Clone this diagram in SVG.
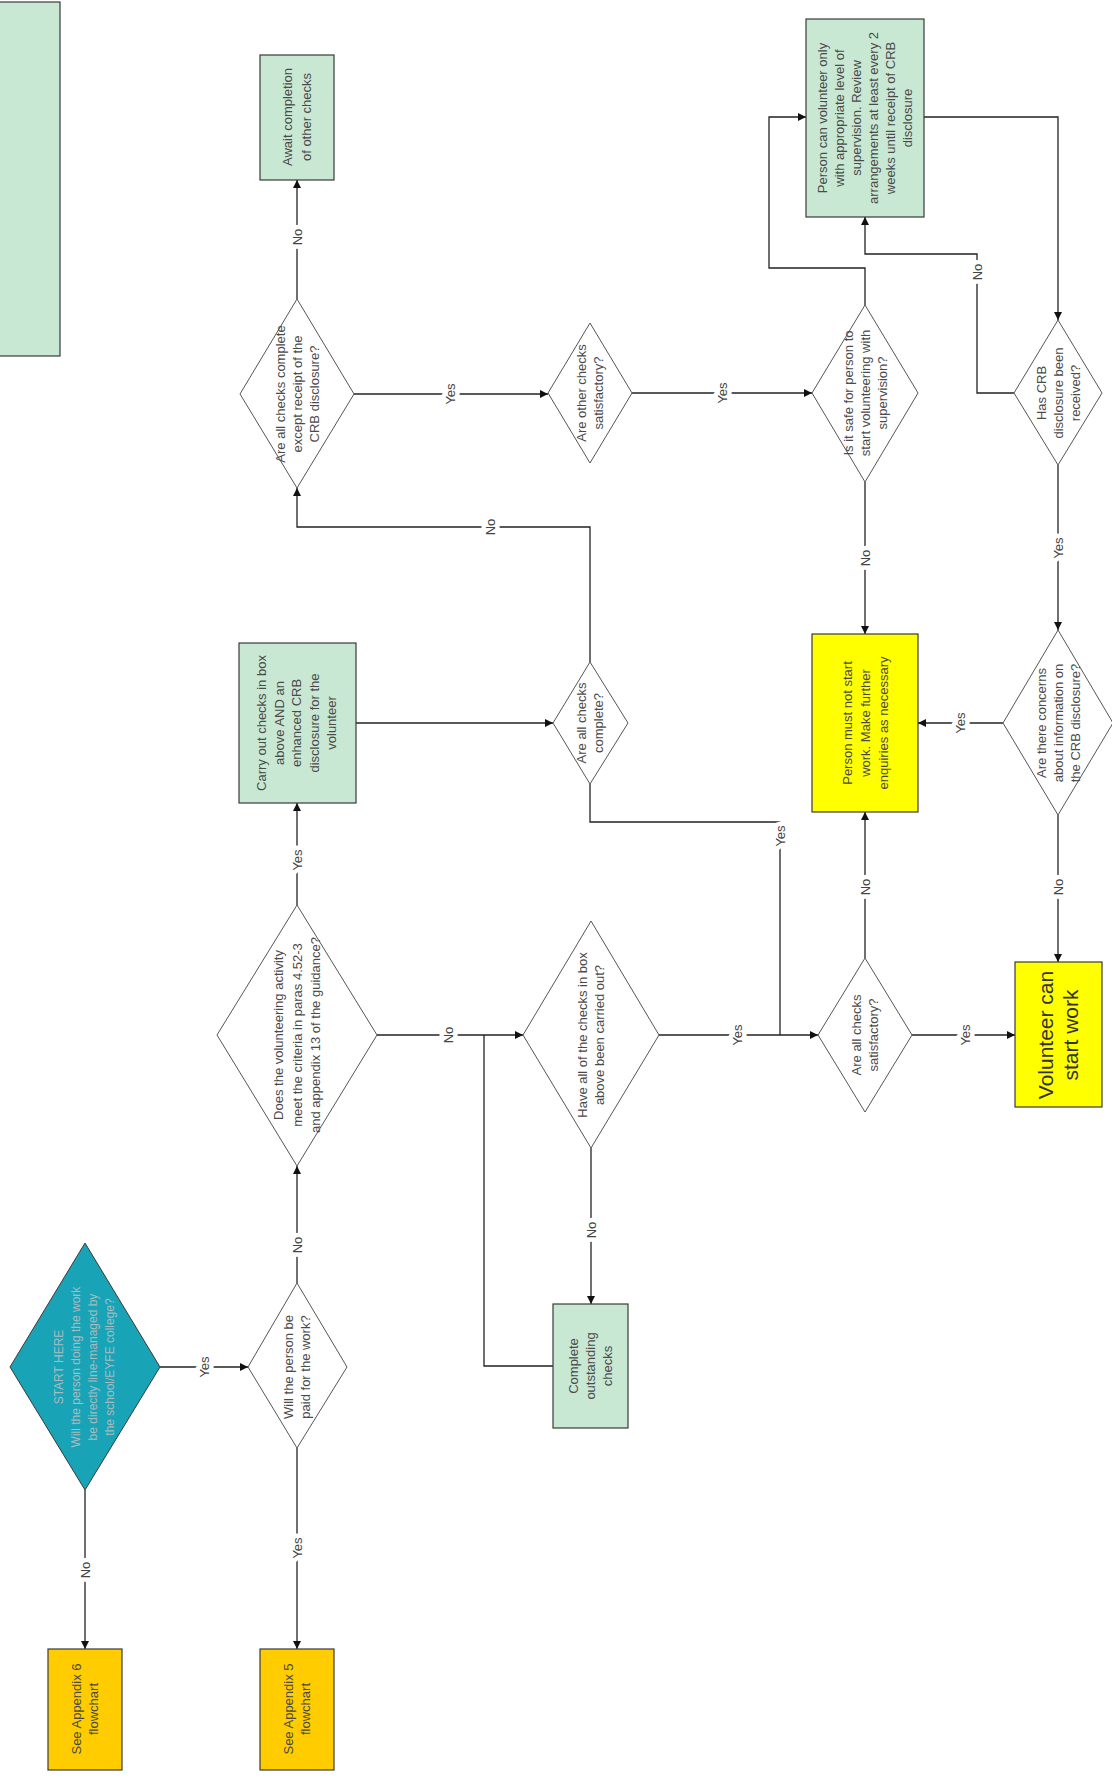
<svg xmlns="http://www.w3.org/2000/svg" width="1112" height="1778" viewBox="0 0 1112 1778">
<defs>
<style>
.bg{fill:#ffffff}
.box{stroke:#3a3a3a;stroke-width:1.2}
.green{fill:#c8e8d4}
.yellow{fill:#ffff00}
.gold{fill:#ffcc00}
.teal{fill:#19a3b7;stroke:#3a3a3a;stroke-width:1}
.dia{fill:#ffffff;stroke:#555555;stroke-width:1}
.t{font-family:"Liberation Sans",Arial,sans-serif;font-size:13px;fill:#4a4a4a;text-anchor:middle}
.big{font-size:21px;fill:#333333}
.st{fill:#a7bcbf;font-size:12px}
.edge{fill:none;stroke:#222222;stroke-width:1.3}
.lbl{font-family:"Liberation Sans",Arial,sans-serif;font-size:13px;fill:#444444;text-anchor:middle;paint-order:stroke;stroke:#ffffff;stroke-width:9px;stroke-linejoin:round}
</style>
<marker id="arr" viewBox="0 0 10 10" refX="10" refY="5" markerWidth="9" markerHeight="8" markerUnits="userSpaceOnUse" orient="auto">
<path d="M0,0 L10,5 L0,10 z" fill="#111111"/>
</marker>
</defs>
<rect class="bg" x="0" y="0" width="1112" height="1778"/>

<g id="connectors">
<polyline class="edge" points="160,1367 248,1367" marker-end="url(#arr)"/>
<polyline class="edge" points="85,1490 85,1649" marker-end="url(#arr)"/>
<polyline class="edge" points="297,1448 297,1649" marker-end="url(#arr)"/>
<polyline class="edge" points="297,1283 297,1166" marker-end="url(#arr)"/>
<polyline class="edge" points="297,905 297,803" marker-end="url(#arr)"/>
<polyline class="edge" points="377,1035 523,1035" marker-end="url(#arr)"/>
<polyline class="edge" points="553,1366 484,1366 484,1035"/>
<polyline class="edge" points="591,1148 591,1304" marker-end="url(#arr)"/>
<polyline class="edge" points="659,1035 818,1035" marker-end="url(#arr)"/>
<polyline class="edge" points="590,784 590,822 780,822 780,1035"/>
<polyline class="edge" points="356,723 553,723" marker-end="url(#arr)"/>
<polyline class="edge" points="590,662 590,527 297,527 297,488" marker-end="url(#arr)"/>
<polyline class="edge" points="297,299 297,180" marker-end="url(#arr)"/>
<polyline class="edge" points="354,394 548,394" marker-end="url(#arr)"/>
<polyline class="edge" points="632,393 812,393" marker-end="url(#arr)"/>
<polyline class="edge" points="865,482 865,634" marker-end="url(#arr)"/>
<polyline class="edge" points="865,305 865,268 769,268 769,117 806,117" marker-end="url(#arr)"/>
<polyline class="edge" points="924,117 1058,117 1058,320" marker-end="url(#arr)"/>
<polyline class="edge" points="1014,393 977,393 977,254 865,254 865,217" marker-end="url(#arr)"/>
<polyline class="edge" points="1058,465 1058,630" marker-end="url(#arr)"/>
<polyline class="edge" points="1003,723 918,723" marker-end="url(#arr)"/>
<polyline class="edge" points="1058,815 1058,962" marker-end="url(#arr)"/>
<polyline class="edge" points="865,958 865,812" marker-end="url(#arr)"/>
<polyline class="edge" points="912,1035 1015,1035" marker-end="url(#arr)"/>

<text class="lbl" transform="translate(204,1367) rotate(-90)" y="4.5">Yes</text>
<text class="lbl" transform="translate(85,1570) rotate(-90)" y="4.5">No</text>
<text class="lbl" transform="translate(297,1548) rotate(-90)" y="4.5">Yes</text>
<text class="lbl" transform="translate(297,1245) rotate(-90)" y="4.5">No</text>
<text class="lbl" transform="translate(297,860) rotate(-90)" y="4.5">Yes</text>
<text class="lbl" transform="translate(448,1035) rotate(-90)" y="4.5">No</text>
<text class="lbl" transform="translate(591,1230) rotate(-90)" y="4.5">No</text>
<text class="lbl" transform="translate(737,1035) rotate(-90)" y="4.5">Yes</text>
<text class="lbl" transform="translate(780,836) rotate(-90)" y="4.5">Yes</text>
<text class="lbl" transform="translate(490,527) rotate(-90)" y="4.5">No</text>
<text class="lbl" transform="translate(297,237) rotate(-90)" y="4.5">No</text>
<text class="lbl" transform="translate(450,394) rotate(-90)" y="4.5">Yes</text>
<text class="lbl" transform="translate(722,393) rotate(-90)" y="4.5">Yes</text>
<text class="lbl" transform="translate(865,558) rotate(-90)" y="4.5">No</text>
<text class="lbl" transform="translate(977,272) rotate(-90)" y="4.5">No</text>
<text class="lbl" transform="translate(1058,548) rotate(-90)" y="4.5">Yes</text>
<text class="lbl" transform="translate(960,723) rotate(-90)" y="4.5">Yes</text>
<text class="lbl" transform="translate(1058,887) rotate(-90)" y="4.5">No</text>
<text class="lbl" transform="translate(865,887) rotate(-90)" y="4.5">No</text>
<text class="lbl" transform="translate(965,1035) rotate(-90)" y="4.5">Yes</text>
</g>

<g id="n_biggreen">
<rect class="box green" x="-2" y="2" width="62" height="354"/>
</g>

<g id="n_await">
<rect class="box green" x="260" y="55" width="74" height="125"/>
<text class="t" transform="translate(297,117) rotate(-90)"><tspan x="0" y="-5">Await completion</tspan><tspan x="0" y="14">of other checks</tspan></text>
</g>

<g id="n_except">
<polygon class="dia" points="240,394 297,299 354,394 297,488"/>
<text class="t" transform="translate(297,394) rotate(-90)"><tspan x="0" y="-12.5">Are all checks complete</tspan><tspan x="0" y="4.5">except receipt of the</tspan><tspan x="0" y="21.5">CRB disclosure?</tspan></text>
</g>

<g id="n_other">
<polygon class="dia" points="548,393 590,323 632,393 590,463"/>
<text class="t" transform="translate(590,393) rotate(-90)"><tspan x="0" y="-4">Are other checks</tspan><tspan x="0" y="13">satisfactory?</tspan></text>
</g>

<g id="n_safe">
<polygon class="dia" points="812,393 865,305 918,393 865,482"/>
<text class="t" transform="translate(865,393) rotate(-90)"><tspan x="0" y="-12.5">Is it safe for person to</tspan><tspan x="0" y="4.5">start volunteering with</tspan><tspan x="0" y="21.5">supervision?</tspan></text>
</g>

<g id="n_supervised">
<rect class="box green" x="806" y="19" width="118" height="198"/>
<text class="t" transform="translate(865,118) rotate(-90)"><tspan x="0" y="-38">Person can volunteer only</tspan><tspan x="0" y="-21">with appropriate level of</tspan><tspan x="0" y="-4">supervision.  Review</tspan><tspan x="0" y="13">arrangements at least every 2</tspan><tspan x="0" y="30">weeks until receipt of CRB</tspan><tspan x="0" y="47">disclosure</tspan></text>
</g>

<g id="n_crb">
<polygon class="dia" points="1014,393 1058,320 1102,393 1058,465"/>
<text class="t" transform="translate(1058,393) rotate(-90)"><tspan x="0" y="-12.5">Has CRB</tspan><tspan x="0" y="4.5">disclosure been</tspan><tspan x="0" y="21.5">received?</tspan></text>
</g>

<g id="n_carry">
<rect class="box green" x="239" y="643" width="117" height="160"/>
<text class="t" transform="translate(297,723) rotate(-90)"><tspan x="0" y="-31">Carry out checks in box</tspan><tspan x="0" y="-13.5">above AND an</tspan><tspan x="0" y="4">enhanced CRB</tspan><tspan x="0" y="21.5">disclosure for the</tspan><tspan x="0" y="39">volunteer</tspan></text>
</g>

<g id="n_allcomplete">
<polygon class="dia" points="553,723 590,662 628,723 590,784"/>
<text class="t" transform="translate(590,723) rotate(-90)"><tspan x="0" y="-4">Are all checks</tspan><tspan x="0" y="13">complete?</tspan></text>
</g>

<g id="n_mustnot">
<rect class="box yellow" x="812" y="634" width="106" height="178"/>
<text class="t" transform="translate(865,723) rotate(-90)"><tspan x="0" y="-13">Person must not start</tspan><tspan x="0" y="5">work.  Make further</tspan><tspan x="0" y="23">enquiries as necessary</tspan></text>
</g>

<g id="n_concerns">
<polygon class="dia" points="1003,723 1058,630 1113,723 1058,815"/>
<text class="t" transform="translate(1058,723) rotate(-90)"><tspan x="0" y="-12.5">Are there concerns</tspan><tspan x="0" y="4.5">about information on</tspan><tspan x="0" y="21.5">the CRB disclosure?</tspan></text>
</g>

<g id="n_does">
<polygon class="dia" points="217,1035 297,905 377,1035 297,1166"/>
<text class="t" transform="translate(297,1035) rotate(-90)"><tspan x="0" y="-14">Does the volunteering activity</tspan><tspan x="0" y="4.5">meet the criteria in paras 4.52-3</tspan><tspan x="0" y="23">and appendix 13 of the guidance?</tspan></text>
</g>

<g id="n_haveall">
<polygon class="dia" points="523,1035 591,921 659,1035 591,1148"/>
<text class="t" transform="translate(591,1035) rotate(-90)"><tspan x="0" y="-4">Have all of the checks in box</tspan><tspan x="0" y="13">above been carried out?</tspan></text>
</g>

<g id="n_satisf">
<polygon class="dia" points="818,1035 865,958 912,1035 865,1112"/>
<text class="t" transform="translate(865,1035) rotate(-90)"><tspan x="0" y="-4">Are all checks</tspan><tspan x="0" y="13">satisfactory?</tspan></text>
</g>

<g id="n_volunteer">
<rect class="box yellow" x="1015" y="962" width="87" height="145"/>
<text class="t big" transform="translate(1058,1035) rotate(-90)"><tspan x="0" y="-5">Volunteer can</tspan><tspan x="0" y="20">start work</tspan></text>
</g>

<g id="n_complete">
<rect class="box green" x="553" y="1304" width="75" height="124"/>
<text class="t" transform="translate(590,1366) rotate(-90)"><tspan x="0" y="-12.5">Complete</tspan><tspan x="0" y="4.5">outstanding</tspan><tspan x="0" y="21.5">checks</tspan></text>
</g>

<g id="n_start">
<polygon class="teal" points="10,1367 85,1243 160,1367 85,1490"/>
<text class="t st" transform="translate(84,1367) rotate(-90)"><tspan x="0" y="-21.5">START HERE</tspan><tspan x="0" y="-4.5">Will the person doing the work</tspan><tspan x="0" y="12.5">be directly line-managed by</tspan><tspan x="0" y="29.5">the school/EYFE college?</tspan></text>
</g>

<g id="n_paid">
<polygon class="dia" points="248,1367 297,1283 347,1367 297,1448"/>
<text class="t" transform="translate(297,1367) rotate(-90)"><tspan x="0" y="-4">Will the person be</tspan><tspan x="0" y="13">paid for the work?</tspan></text>
</g>

<g id="n_app6">
<rect class="box gold" x="48" y="1649" width="74" height="121"/>
<text class="t" transform="translate(85,1709) rotate(-90)"><tspan x="0" y="-4">See Appendix 6</tspan><tspan x="0" y="13">flowchart</tspan></text>
</g>

<g id="n_app5">
<rect class="box gold" x="260" y="1649" width="74" height="121"/>
<text class="t" transform="translate(297,1709) rotate(-90)"><tspan x="0" y="-4">See Appendix 5</tspan><tspan x="0" y="13">flowchart</tspan></text>
</g>
</svg>
